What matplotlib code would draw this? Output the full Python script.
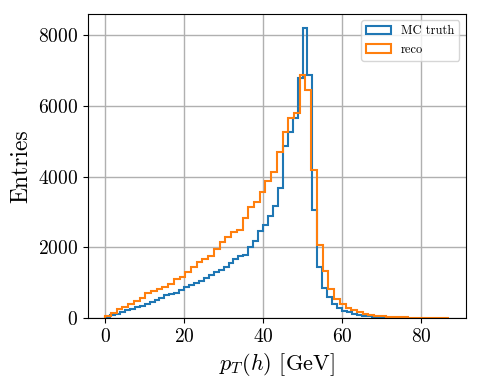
import numpy as np
import matplotlib
matplotlib.use("Agg")
import matplotlib.pyplot as plt

# bin ranges
truth_range = (0.0, 75.0)
reco_range = (0.0, 87.0)
n_bins = 60

truth_counts = [25, 75, 120, 170, 215, 255, 300, 340, 390, 450,
                510, 560, 640, 680, 700, 800, 870, 920, 990, 1060,
                1130, 1210, 1300, 1360, 1450, 1550, 1660, 1740, 1790, 2000,
                2180, 2450, 2620, 2880, 3170, 3690, 4870, 5250, 5650, 6800,
                8190, 6870, 3050, 1450, 840, 580, 400, 285, 210, 160,
                115, 85, 65, 48, 36, 27, 20, 14, 9, 5]

reco_counts = [60, 150, 250, 320, 400, 490, 565, 697, 753, 819,
               885, 961, 1103, 1169, 1310, 1432, 1593, 1668, 1743, 1951,
               2158, 2280, 2421, 2497, 2817, 3128, 3269, 3552, 3882, 4137,
               4683, 5248, 5671, 5795, 6870, 6460, 4180, 2065, 1337, 830,
               550, 410, 270, 215, 160, 120, 90, 70, 55, 42,
               32, 24, 18, 13, 9, 6, 4, 3, 2, 1]

labels = ["MC truth", "reco"]
xlabel = r"$p_T(h)$ [GeV]"
ylabel = "Entries"

plt.rcParams["font.family"] = ["cmr10", "DejaVu Serif"]
plt.rcParams["mathtext.fontset"] = "cm"
plt.rcParams["axes.formatter.use_mathtext"] = True

fig = plt.figure(figsize=(4.79, 3.87), dpi=100)
ax = fig.add_axes([0.1837, 0.1783, 0.9723 - 0.1837, 0.9638 - 0.1783])

edges_t = np.linspace(truth_range[0], truth_range[1], n_bins + 1)
edges_r = np.linspace(reco_range[0], reco_range[1], n_bins + 1)
centers_t = 0.5 * (edges_t[:-1] + edges_t[1:])
centers_r = 0.5 * (edges_r[:-1] + edges_r[1:])

ax.hist(centers_t, bins=edges_t, weights=truth_counts, histtype="step",
        color="C0", linewidth=1.5, label=labels[0])
ax.hist(centers_r, bins=edges_r, weights=reco_counts, histtype="step",
        color="C1", linewidth=1.5, label=labels[1])

ax.grid(True, color="#b0b0b0", linewidth=1.0)
ax.set_axisbelow(True)
ax.set_xticks([0, 20, 40, 60, 80])
ax.set_yticks([0, 2000, 4000, 6000, 8000])
ax.tick_params(labelsize=14)
ax.set_xlabel(xlabel, fontsize=16)
ax.set_ylabel(ylabel, fontsize=17)
ax.legend(loc="upper right", fontsize=9)

fig.savefig("out.png", dpi=100)
